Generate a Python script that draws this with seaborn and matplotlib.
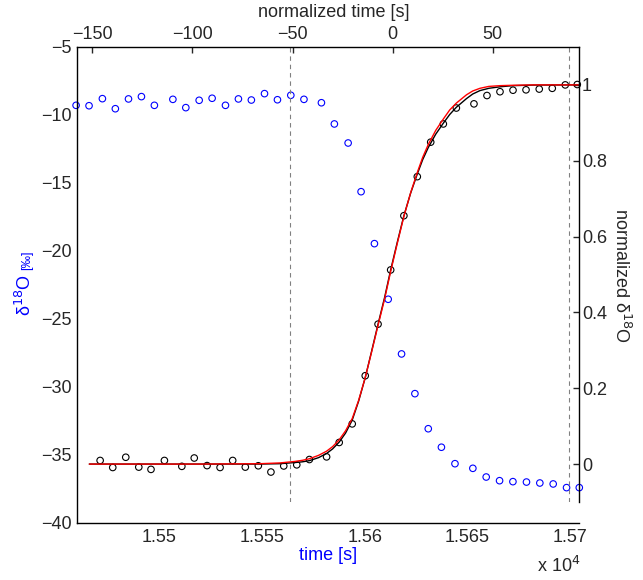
import matplotlib
matplotlib.use("Agg")
import matplotlib.pyplot as plt
import seaborn as sns
from matplotlib.ticker import FuncFormatter

# raw d18O record (bottom / left axes)
time_s = [15459.5, 15465.8, 15472.3, 15478.6, 15485.0, 15491.3, 15497.6, 15506.6,
          15512.9, 15519.4, 15525.7, 15532.2, 15538.5, 15544.8, 15551.2, 15557.5,
          15564.0, 15570.4, 15578.9, 15585.2, 15591.9, 15598.2, 15604.7, 15611.4,
          15617.9, 15624.4, 15630.9, 15637.3, 15643.9, 15652.6, 15659.1, 15665.6,
          15672.1, 15678.7, 15685.2, 15691.7, 15698.2, 15704.4]
d18o = [-9.29, -9.32, -8.80, -9.54, -8.82, -8.65, -9.29, -8.85,
        -9.46, -8.92, -8.77, -9.29, -8.82, -8.90, -8.43, -8.88,
        -8.55, -8.85, -9.10, -10.66, -12.06, -15.64, -19.46, -23.55,
        -27.57, -30.49, -33.07, -34.43, -35.64, -35.98, -36.62, -36.89,
        -36.96, -36.99, -37.06, -37.13, -37.40, -37.40]

# normalized record (top / right axes)
norm_time = [-146.1, -139.8, -133.3, -126.8, -120.7, -114.0, -105.3, -99.1,
             -92.7, -86.2, -79.9, -73.6, -67.1, -60.8, -54.4, -47.9,
             -41.6, -33.0, -26.7, -20.2, -13.7, -7.3, -1.0, 5.6,
             12.3, 19.0, 25.3, 31.8, 40.6, 47.1, 53.6, 60.1,
             66.6, 73.2, 79.7, 86.2, 92.2]
norm_d18o = [0.0095, -0.009, 0.018, -0.008, -0.014, 0.0095, -0.006, 0.016,
             -0.004, -0.009, 0.0095, -0.008, -0.0045, -0.021, -0.005, -0.002,
             0.012, 0.019, 0.057, 0.106, 0.233, 0.369, 0.512, 0.655,
             0.758, 0.849, 0.897, 0.939, 0.950, 0.972, 0.982, 0.986,
             0.987, 0.989, 0.991, 1.000, 1.001]

# fitted curves
fit_time = [-151.5, -96.2, -66.3, -56.3, -48.8, -45.0, -41.6, -37.0, -33.0, -30.0,
            -26.7, -23.5, -20.2, -17.0, -13.7, -10.5, -7.3, -4.0, -1.0, 2.3,
            5.6, 9.0, 12.3, 15.0, 17.8, 21.5, 25.3, 28.5, 31.8, 36.9,
            40.0, 43.6, 48.0, 53.6, 60.0, 70.2, 92.7]
fit_black = [0.0, 0.0, 0.0, 0.001, 0.004, 0.006, 0.009, 0.017, 0.028, 0.040,
             0.058, 0.082, 0.116, 0.166, 0.228, 0.298, 0.369, 0.440, 0.512, 0.585,
             0.655, 0.715, 0.765, 0.803, 0.835, 0.870, 0.899, 0.922, 0.941, 0.964,
             0.976, 0.985, 0.991, 0.995, 0.998, 0.9995, 1.0]
fit_red = [0.0, 0.0, 0.001, 0.003, 0.007, 0.010, 0.014, 0.023, 0.034, 0.046,
           0.064, 0.088, 0.120, 0.168, 0.228, 0.296, 0.366, 0.436, 0.508, 0.582,
           0.653, 0.716, 0.769, 0.809, 0.843, 0.880, 0.910, 0.934, 0.952, 0.974,
           0.984, 0.991, 0.996, 0.998, 0.999, 1.0, 1.0]

dash_pos = [-51.1, 88.3]

sns.set_style("white")
plt.rcParams["font.family"] = ["Liberation Sans", "DejaVu Sans"]
plt.rcParams["axes.edgecolor"] = "black"
plt.rcParams["axes.linewidth"] = 1.0
fs = 13

fig = plt.figure(figsize=(6.43, 5.8), dpi=100)
ax1 = fig.add_axes([0.1193, 0.0983, 0.7816, 0.8207])
ax2 = fig.add_axes([0.1193, 0.1345, 0.7816, 0.7845])
ax2.patch.set_visible(False)

# left / bottom
sns.scatterplot(x=time_s, y=d18o, ax=ax1, marker="o", s=22, facecolor="none",
                edgecolor="blue", linewidth=0.8, clip_on=False, legend=False)
ax1.set_xlim(15459.8, 15704.4)
ax1.set_ylim(-40, -5)
ax1.set_xticks([15500, 15550, 15600, 15650, 15700])
ax1.set_yticks(range(-40, -4, 5))
ax1.xaxis.set_major_formatter(FuncFormatter(lambda v, p: f"{v / 1e4:g}"))
for s in ["top", "right"]:
    ax1.spines[s].set_visible(False)
ax1.tick_params(axis="both", direction="in", length=4, width=1, labelsize=fs,
                top=False, right=False)
ax1.tick_params(axis="x", pad=4)
ax1.tick_params(axis="y", pad=3.5)
ax1.set_xlabel("time [s]", color="blue", fontsize=fs)
ax1.xaxis.set_label_coords(0.5, -0.069)
ax1.xaxis.label.set_va("center")
ax1.text(-0.103, 0.478, "δ$^{18}$O", transform=ax1.transAxes, rotation=90,
         ha="center", va="center", color="blue", fontsize=fs)
ax1.text(-0.099, 0.5525, "[‰]", transform=ax1.transAxes, rotation=90,
         ha="center", va="center", color="blue", fontsize=9)
fig.text(537 / 643, 1 - 572 / 580, "x 10$^{4}$", ha="left", va="baseline", fontsize=fs)

# top / right
for xd in dash_pos:
    ax2.axvline(xd, color="0.5", lw=0.8, ls=(0, (4, 3.5)))
sns.lineplot(x=fit_time, y=fit_black, ax=ax2, color="black", lw=1.0,
             sort=False, estimator=None, legend=False)
sns.lineplot(x=fit_time, y=fit_red, ax=ax2, color="red", lw=1.0,
             sort=False, estimator=None, legend=False)
sns.scatterplot(x=norm_time, y=norm_d18o, ax=ax2, marker="o", s=22, facecolor="none",
                edgecolor="black", linewidth=0.8, clip_on=False, legend=False)
ax2.set_xlim(-157.8, 93.2)
ax2.set_ylim(-0.1, 1.1)
ax2.set_xticks([-150, -100, -50, 0, 50])
ax2.set_yticks([0, 0.2, 0.4, 0.6, 0.8, 1])
ax2.yaxis.set_major_formatter(FuncFormatter(lambda v, p: f"{v:g}"))
ax2.xaxis.tick_top()
ax2.yaxis.tick_right()
for s in ["left", "bottom"]:
    ax2.spines[s].set_visible(False)
ax2.tick_params(axis="both", direction="in", length=4, width=1, labelsize=fs,
                bottom=False, left=False)
ax2.tick_params(axis="x", pad=2.7)
ax2.tick_params(axis="y", pad=1.8)
ax2.set_xlabel("normalized time [s]", fontsize=fs)
ax2.xaxis.set_label_position("top")
ax2.xaxis.set_label_coords(0.512, 1.0747)
ax2.xaxis.label.set_va("center")
ax2.set_ylabel("normalized δ$^{18}$O", fontsize=fs, rotation=-90)
ax2.yaxis.set_label_position("right")
ax2.yaxis.set_label_coords(1.083, 0.497)
ax2.yaxis.label.set_va("center")

fig.savefig("out.png", dpi=100)
